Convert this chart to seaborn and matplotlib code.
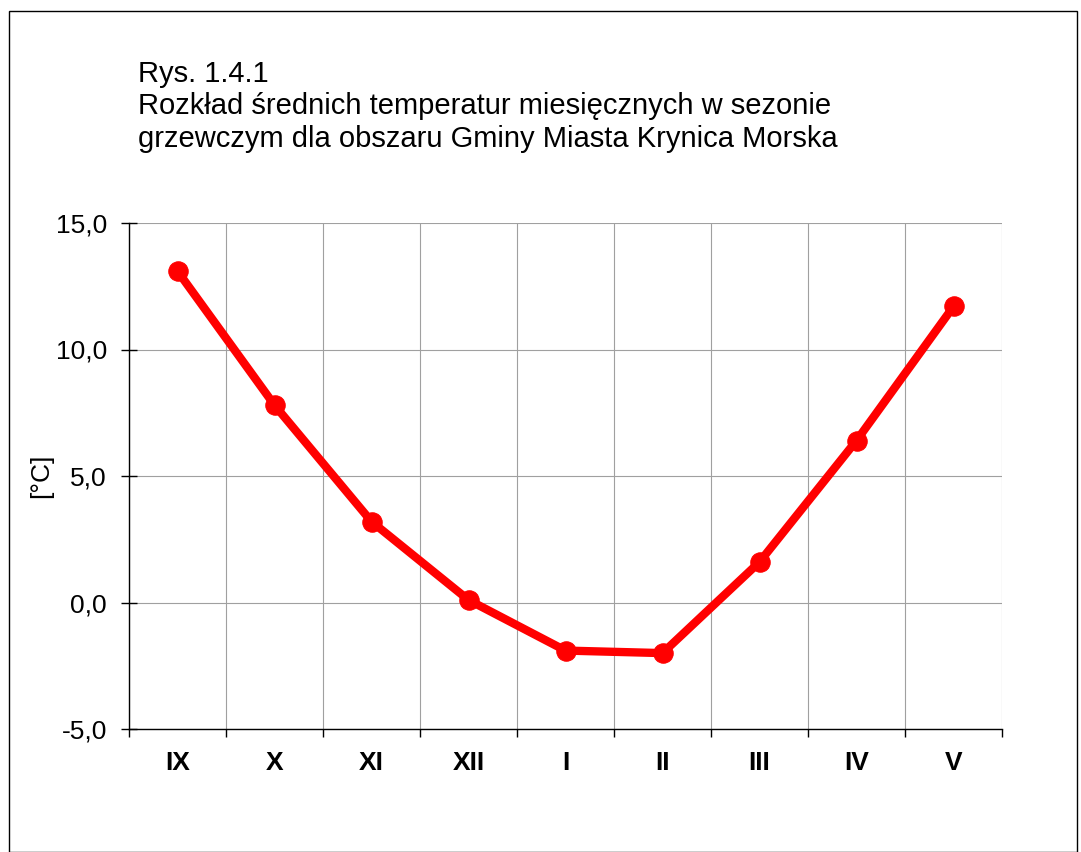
import matplotlib
matplotlib.use("Agg")
import matplotlib.pyplot as plt
import seaborn as sns
import pandas as pd
import numpy as np
from matplotlib.patches import Rectangle

months = ["IX", "X", "XI", "XII", "I", "II", "III", "IV", "V"]
temps = [13.1, 7.8, 3.2, 0.1, -1.9, -2.0, 1.6, 6.4, 11.7]
yticks = [-5.0, 0.0, 5.0, 10.0, 15.0]

sns.set_style("white")
plt.rcParams['font.family'] = ['Liberation Sans', 'DejaVu Sans']
plt.rcParams['text.color'] = 'black'
plt.rcParams['axes.labelcolor'] = 'black'
plt.rcParams['xtick.color'] = 'black'
plt.rcParams['ytick.color'] = 'black'

W, H = 1081, 852
fig = plt.figure(figsize=(W/100, H/100), dpi=100)
ax = fig.add_axes([129/W, 1-729/H, (1002-129)/W, (729-223)/H])

df = pd.DataFrame({"pos": np.arange(len(months)), "temp": temps})
sns.lineplot(data=df, x="pos", y="temp", ax=ax, color="#FF0000", linewidth=6,
             marker="o", markersize=14, markeredgecolor="#FF0000", markerfacecolor="#FF0000")

ax.set_xlim(-0.5, len(months)-0.5)
ax.set_ylim(-5, 15)
ax.set_xticks(np.arange(len(months)))
ax.set_xticklabels(months, fontsize=19, fontweight="bold")
ax.set_xticks(np.arange(-0.5, len(months)), minor=True)
ax.tick_params(axis="x", which="both", bottom=True)
ax.tick_params(axis="x", which="major", length=0, pad=16)
ax.tick_params(axis="x", which="minor", length=6, direction="out", width=1, color="black")
ax.set_yticks(yticks)
ax.set_yticklabels([f"{v:.1f}".replace(".", ",") for v in yticks], fontsize=19)
ax.tick_params(axis="y", which="major", left=True, length=12, direction="inout", width=1, color="black", pad=10)

ax.grid(False)
ax.grid(True, axis="x", which="minor", color="#A0A0A0", linewidth=0.8)
ax.grid(True, axis="y", which="major", color="#A0A0A0", linewidth=0.8)
ax.set_axisbelow(True)

for s in ["top", "right"]:
    ax.spines[s].set_visible(False)
for s in ["left", "bottom"]:
    ax.spines[s].set_color("black")
    ax.spines[s].set_linewidth(1)

ax.set_xlabel("")
ax.set_ylabel("[°C]", fontsize=19, labelpad=2)

fig.text(138/W, 1-60/H, "Rys. 1.4.1\nRozkład średnich temperatur miesięcznych w sezonie\ngrzewczym dla obszaru Gminy Miasta Krynica Morska",
         fontsize=21, ha="left", va="top", linespacing=1.2)

fig.patches.append(Rectangle((9/W, 0), (1077-9)/W, 1-11/H, transform=fig.transFigure,
                             fill=False, edgecolor="black", linewidth=1))

fig.savefig("out.png", dpi=100)
